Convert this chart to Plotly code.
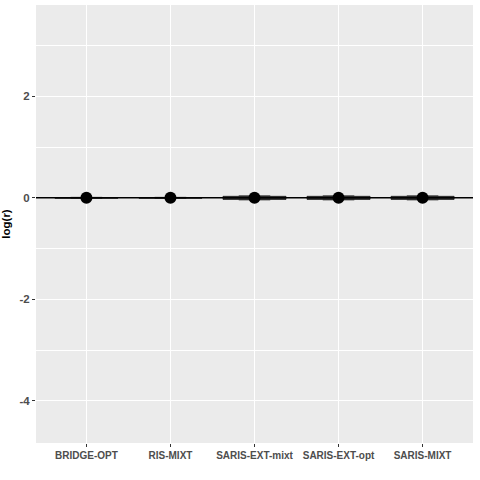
import plotly.graph_objects as go

categories = ["BRIDGE-OPT", "RIS-MIXT", "SARIS-EXT-mixt", "SARIS-EXT-opt", "SARIS-MIXT"]
q1 = [-0.006, -0.006, -0.03, -0.03, -0.03]
median = [0.0, 0.0, 0.0, 0.0, 0.0]
q3 = [0.006, 0.006, 0.03, 0.03, 0.03]
lower = [-0.01, -0.01, -0.04, -0.04, -0.04]
upper = [0.01, 0.01, 0.04, 0.04, 0.04]
means = [0.0, 0.0, 0.0, 0.0, 0.0]

fig = go.Figure()
for i, c in enumerate(categories):
    fig.add_trace(go.Box(
        x=[c], q1=[q1[i]], median=[median[i]], q3=[q3[i]],
        lowerfence=[lower[i]], upperfence=[upper[i]],
        width=0.75, fillcolor="#333333",
        line=dict(color="#1a1a1a", width=0.8),
        showlegend=False, hoverinfo="skip",
    ))

fig.add_trace(go.Scatter(
    x=categories, y=means, mode="markers",
    marker=dict(color="black", size=12),
    showlegend=False,
))

fig.add_shape(type="line", xref="paper", yref="y", x0=0, x1=1, y0=0, y1=0,
              line=dict(color="black", width=1.5), layer="above")

font_family = "Liberation Sans, Arial, sans-serif"
fig.update_layout(
    width=480, height=480,
    margin=dict(l=36, r=7, t=5, b=37),
    paper_bgcolor="white", plot_bgcolor="#ebebeb",
    font=dict(family=font_family, color="#4d4d4d"),
    xaxis=dict(
        type="category", categoryorder="array", categoryarray=categories,
        range=[-0.6, 4.6], showgrid=True, gridcolor="white", gridwidth=1.2,
        zeroline=False, ticks="outside", ticklen=3, tickcolor="#333333", tickwidth=1,
        tickfont=dict(family=font_family, size=10, color="#4d4d4d", weight="bold"),
        showline=False, automargin=False,
    ),
    yaxis=dict(
        range=[-4.83, 3.80], tickvals=[-4, -2, 0, 2], ticktext=["-4", "-2", "0", "2"],
        showgrid=True, gridcolor="white", gridwidth=1.2, zeroline=False,
        ticks="outside", ticklen=3, tickcolor="#333333", tickwidth=1,
        tickfont=dict(family=font_family, size=11.5, color="#4d4d4d", weight="bold"),
        minor=dict(tickvals=[-3, -1, 1, 3], showgrid=True, gridcolor="white", gridwidth=0.6, ticks=""),
        title=dict(text="log(r)", font=dict(family=font_family, size=11.5, color="black", weight="bold"), standoff=6),
        automargin=False,
    ),
)

fig.write_html("out.html", config={"displayModeBar": False},
               post_script="document.body.style.margin='0';document.body.style.padding='0';")
